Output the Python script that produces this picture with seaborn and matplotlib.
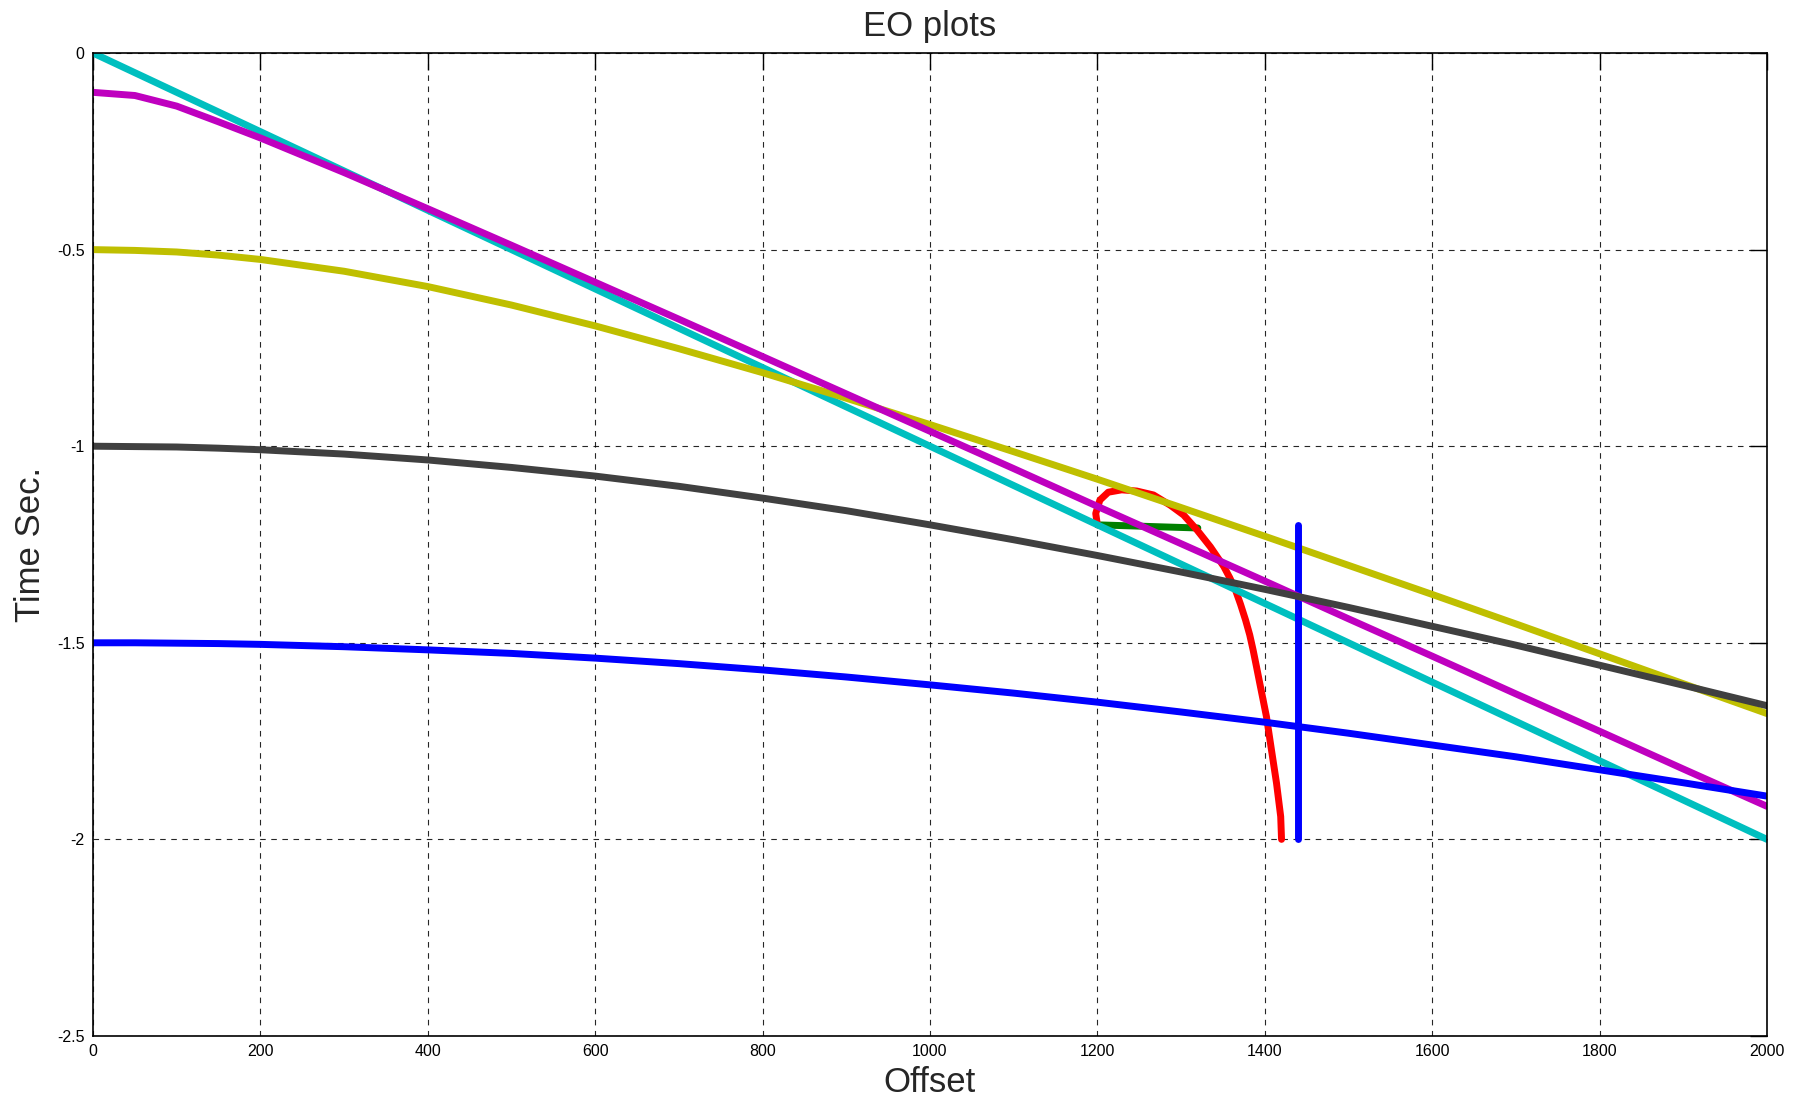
import matplotlib
matplotlib.use("Agg")
import matplotlib.pyplot as plt
import seaborn as sns

# ---- data ----
offsets = [0, 50, 100, 150, 200, 300, 400, 500, 600, 700, 800, 900, 1000,
           1100, 1200, 1300, 1400, 1500, 1600, 1700, 1800, 1900, 2000]
cyan_t = [0.0, -0.05, -0.1, -0.15, -0.2, -0.3, -0.4, -0.5, -0.6, -0.7, -0.8, -0.9, -1.0,
          -1.1, -1.2, -1.3, -1.4, -1.5, -1.6, -1.7, -1.8, -1.9, -2.0]
magenta_t = [-0.100, -0.108, -0.135, -0.175, -0.216, -0.304, -0.396, -0.489, -0.583, -0.677, -0.772, -0.867, -0.962,
             -1.057, -1.153, -1.248, -1.343, -1.439, -1.534, -1.630, -1.725, -1.821, -1.916]
yellow_t = [-0.500, -0.502, -0.506, -0.514, -0.525, -0.555, -0.594, -0.641, -0.694, -0.752, -0.813, -0.878, -0.945,
            -1.014, -1.084, -1.156, -1.229, -1.303, -1.377, -1.452, -1.528, -1.604, -1.680]
gray_t = [-1.000, -1.001, -1.002, -1.005, -1.009, -1.020, -1.035, -1.054, -1.076, -1.102, -1.132, -1.164, -1.200,
          -1.238, -1.278, -1.320, -1.364, -1.410, -1.458, -1.506, -1.557, -1.608, -1.660]
blue_t = [-1.500, -1.500, -1.501, -1.502, -1.504, -1.510, -1.518, -1.527, -1.539, -1.553, -1.569, -1.587, -1.607,
          -1.628, -1.651, -1.676, -1.702, -1.730, -1.760, -1.790, -1.823, -1.856, -1.890]

red_x = [1200, 1198, 1203, 1213, 1229, 1247, 1267, 1287, 1303, 1319, 1335, 1351,
         1358, 1365, 1371, 1377, 1382, 1386, 1390, 1394, 1402, 1408, 1414, 1419, 1420]
red_t = [-1.200, -1.171, -1.137, -1.117, -1.111, -1.114, -1.124, -1.150, -1.175, -1.213, -1.256, -1.306,
         -1.334, -1.366, -1.402, -1.442, -1.480, -1.518, -1.560, -1.603, -1.688, -1.773, -1.857, -1.942, -2.000]

green_x = [1200, 1320]
green_t = [-1.200, -1.208]

vline_x = [1440, 1440]
vline_t = [-1.200, -2.000]

x_ticks = [0, 200, 400, 600, 800, 1000, 1200, 1400, 1600, 1800, 2000]
y_ticks = [0, -0.5, -1, -1.5, -2, -2.5]
y_tick_labels = ["0", "-0.5", "-1", "-1.5", "-2", "-2.5"]

# ---- style ----
sns.set_style("white")
plt.rcParams["font.family"] = ["Liberation Sans", "DejaVu Sans"]
plt.rcParams["axes.unicode_minus"] = False

fig, ax = plt.subplots(figsize=(18.06, 10.98), dpi=100)
fig.subplots_adjust(left=0.0515, right=0.9784, top=0.9517, bottom=0.0565)

lw = 5
sns.lineplot(x=green_x, y=green_t, ax=ax, color="#008000", lw=lw, sort=False, estimator=None)
sns.lineplot(x=red_x, y=red_t, ax=ax, color="#ff0000", lw=lw, sort=False, estimator=None)
sns.lineplot(x=offsets, y=cyan_t, ax=ax, color="#00bfbf", lw=lw, sort=False, estimator=None)
sns.lineplot(x=offsets, y=yellow_t, ax=ax, color="#bfbf00", lw=lw, sort=False, estimator=None)
sns.lineplot(x=vline_x, y=vline_t, ax=ax, color="#0000ff", lw=lw, sort=False, estimator=None,
             solid_capstyle="round")
sns.lineplot(x=offsets, y=magenta_t, ax=ax, color="#bf00bf", lw=lw, sort=False, estimator=None)
sns.lineplot(x=offsets, y=gray_t, ax=ax, color="#404040", lw=lw, sort=False, estimator=None)
sns.lineplot(x=offsets, y=blue_t, ax=ax, color="#0000ff", lw=lw, sort=False, estimator=None)

ax.set_xlim(0, 2000)
ax.set_ylim(-2.5, 0)
ax.set_xticks(x_ticks)
ax.set_xticklabels([str(t) for t in x_ticks])
ax.set_yticks(y_ticks)
ax.set_yticklabels(y_tick_labels)

ax.grid(True, color="black", linestyle=(0, (5, 5)), linewidth=0.8, alpha=0.85)
ax.set_axisbelow(True)
for s in ax.spines.values():
    s.set_visible(True)
    s.set_color("black")
    s.set_linewidth(1.2)

ax.tick_params(axis="both", which="both", direction="in", length=12, width=1,
               labelsize=11.5, colors="black", top=True, right=True, pad=6)

ax.set_title("EO plots", fontsize=25, pad=12.5)
ax.set_xlabel("Offset", fontsize=25, labelpad=5)
ax.set_ylabel("Time Sec.", fontsize=25, labelpad=7)

fig.savefig("out.png", dpi=100, facecolor="white")
